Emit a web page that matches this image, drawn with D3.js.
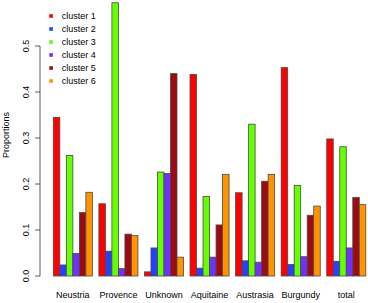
<!DOCTYPE html>
<html>
<head>
<meta charset="utf-8">
<script src="https://cdn.jsdelivr.net/npm/d3@7"></script>
<style>
  body { margin: 0; background: #fff; }
  text { font-family: "Liberation Sans", Arial, Helvetica, sans-serif; fill: #000; }
</style>
</head>
<body>
<svg></svg>
<script>
// regions along the x axis
var regions = ["Neustria", "Provence", "Unknown", "Aquitaine", "Austrasia", "Burgundy", "total"];
var clusters = ["cluster 1", "cluster 2", "cluster 3", "cluster 4", "cluster 5", "cluster 6"];
var colors = ["#ff0000", "#2541ff", "#66ff00", "#7030ff", "#9e0a14", "#ff9400"];

// proportions, one array per cluster (in region order)
var cluster1 = [0.345, 0.157, 0.009, 0.438, 0.181, 0.453, 0.298];
var cluster2 = [0.024, 0.054, 0.061, 0.017, 0.033, 0.025, 0.032];
var cluster3 = [0.262, 0.594, 0.226, 0.173, 0.330, 0.197, 0.281];
var cluster4 = [0.049, 0.016, 0.223, 0.041, 0.030, 0.042, 0.061];
var cluster5 = [0.138, 0.091, 0.440, 0.111, 0.206, 0.132, 0.171];
var cluster6 = [0.182, 0.088, 0.041, 0.221, 0.221, 0.152, 0.155];
var yTicks = [0, 0.1, 0.2, 0.3, 0.4, 0.5];

var series = [cluster1, cluster2, cluster3, cluster4, cluster5, cluster6];

var width = 368, height = 303;

var svg = d3.select("svg")
    .attr("width", width)
    .attr("height", height);

// x in "bar units": each group is 6 bars plus one bar of space before it
var x = d3.scaleLinear()
    .domain([0, regions.length * 7])
    .range([46.8, 365.8]);

var y = d3.scaleLinear()
    .domain([0, 0.5])
    .range([276, 46]);

// build the flat bar list
var bars = [];
regions.forEach(function(r, g) {
  series.forEach(function(s, i) {
    bars.push({ g: g, i: i, value: s[g] });
  });
});

svg.append("g")
  .selectAll("rect")
  .data(bars)
  .enter()
  .append("rect")
    .attr("x", function(d) { return x(1 + 7 * d.g + d.i); })
    .attr("width", function(d) { return x(2 + 7 * d.g + d.i) - x(1 + 7 * d.g + d.i); })
    .attr("y", function(d) { return y(d.value); })
    .attr("height", function(d) { return y(0) - y(d.value); })
    .attr("fill", function(d) { return colors[d.i]; })
    .attr("stroke", "#4a4a4a")
    .attr("stroke-width", 0.8);

// y axis
var yAxis = svg.append("g");
yAxis.append("line")
    .attr("x1", 40).attr("x2", 40)
    .attr("y1", y(0)).attr("y2", y(0.5))
    .attr("stroke", "#333").attr("stroke-width", 0.8);

yAxis.selectAll(".tick")
  .data(yTicks)
  .enter()
  .append("line")
    .attr("x1", 35).attr("x2", 40)
    .attr("y1", function(d) { return y(d); })
    .attr("y2", function(d) { return y(d); })
    .attr("stroke", "#333").attr("stroke-width", 0.8);

yAxis.selectAll("text")
  .data(yTicks)
  .enter()
  .append("text")
    .attr("transform", function(d) { return "translate(29," + y(d) + ") rotate(-90)"; })
    .attr("text-anchor", "middle")
    .style("font-size", "9px")
    .text(function(d) { return d3.format(".1f")(d); });

svg.append("text")
    .attr("transform", "translate(8.5,135) rotate(-90)")
    .attr("text-anchor", "middle")
    .style("font-size", "9px")
    .text("Proportions");

// region labels
svg.append("g")
  .selectAll("text")
  .data(regions)
  .enter()
  .append("text")
    .attr("x", function(d, g) { return x(4 + 7 * g); })
    .attr("y", 298)
    .attr("text-anchor", "middle")
    .style("font-size", "9px")
    .text(function(d) { return d; });

// legend
var legend = svg.append("g")
  .selectAll("g")
  .data(clusters)
  .enter()
  .append("g")
    .attr("transform", function(d, i) { return "translate(0," + (16 + 13 * i) + ")"; });

legend.append("rect")
    .attr("x", 49.3).attr("y", -1.8)
    .attr("width", 3.6).attr("height", 3.6)
    .attr("fill", function(d, i) { return colors[i]; });

legend.append("text")
    .attr("x", 61.7)
    .attr("y", 3.3)
    .style("font-size", "9px")
    .text(function(d) { return d; });
</script>
</body>
</html>
